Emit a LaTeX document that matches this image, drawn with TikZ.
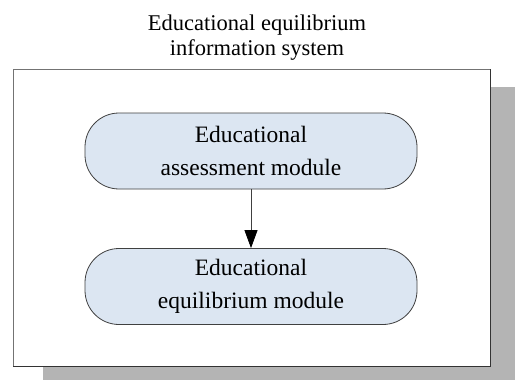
\documentclass[tikz,border=0pt]{standalone}
\usepackage{fontspec}
\setmainfont{Liberation Serif}
\usepackage{xcolor}
\usetikzlibrary{positioning,arrows.meta}

\definecolor{modfill}{HTML}{DCE6F2}
\definecolor{shadowgray}{HTML}{B4B4B4}

\begin{document}
\begin{tikzpicture}[x=1pt, y=-1pt,
                    module/.style = {draw=black!75, thick, fill=modfill, rounded corners=34pt,
                                     minimum width=332pt, minimum height=76pt, align=center,
                                     font=\fontsize{23.5}{33}\selectfont},
                    marrow/.style = {thick, black!75, arrows = {-Triangle[width=13pt, length=18pt, black]}}
                ]

                \useasboundingbox (0,0) rectangle (515,380);

                % shadow and frame
                \fill[shadowgray] (43,87) rectangle (515,380);
                \draw[fill=white, draw=black!55, thick] (13,69) rectangle (490,366);
                \draw[black!80, thick] (490,69) -- (490,366) -- (13,366);

                \node[align=center, font=\fontsize{22.5}{25}\selectfont] (title) at (257,38)
                    {Educational equilibrium\\information system};

                \node[module] (assess) at (251,151) {Educational\\assessment module};
                \node[module] (equil) at (251,286.5) {Educational\\equilibrium module};

                \draw[marrow] (assess) -- (equil);

            \end{tikzpicture}
\end{document}
